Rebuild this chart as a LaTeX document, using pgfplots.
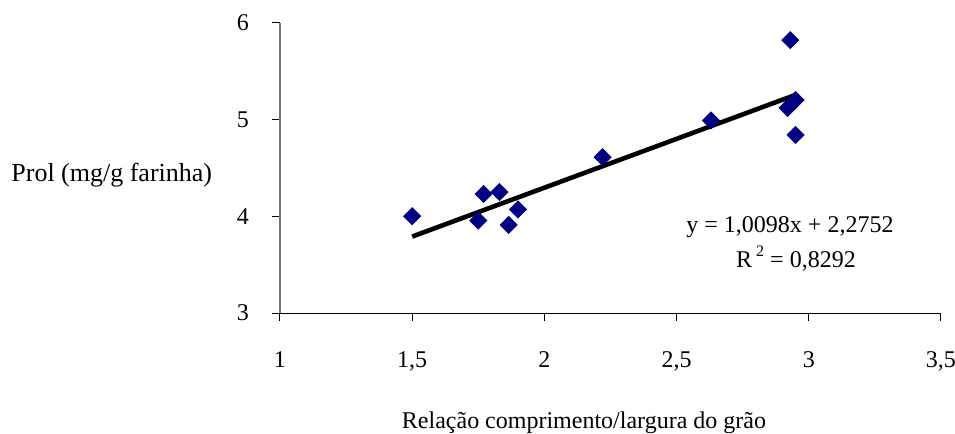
\documentclass[border=0pt]{standalone}
\usepackage{pgfplots}
\pgfplotsset{compat=1.18}
\usepackage{fontspec}
\setmainfont{Liberation Serif}
\definecolor{navy}{RGB}{0,0,128}
\begin{document}
\fontsize{12}{14.4}\selectfont
\begin{tikzpicture}
\path[use as bounding box] (-140pt,-60.5pt) rectangle (337.5pt,156.5pt);
\begin{axis}[
  at={(0,0)}, anchor=south west,
  scale only axis,
  width=330.5pt, height=145.15pt,
  xmin=1, xmax=3.5, ymin=3, ymax=6,
  axis lines*=left,
  x axis line style={black, line width=0.5pt},
  y axis line style={black!55, line width=0.6pt},
  xtick={1,1.5,2,2.5,3,3.5},
  xticklabels={1,{1,5},2,{2,5},3,{3,5}},
  ytick={3,4,5,6},
  tick align=outside,
  major tick length=4pt,
  tick style={black, line width=0.5pt},
  /pgf/number format/assume math mode=true,
  tick label style={font=\fontsize{12}{14.4}\selectfont},
  xticklabel style={yshift=-11pt},
  yticklabel style={xshift=-7.3pt},
  clip=false,
]
\addplot[only marks, mark=square*, mark size=3pt,
  mark options={rotate=45, fill=navy, draw=navy}]
  coordinates {
  (1.50,4.00) (1.75,3.955) (1.77,4.23) (1.83,4.25) (1.865,3.91) (1.90,4.07)
  (2.22,4.61) (2.63,4.99) (2.92,5.12) (2.95,5.20) (2.95,4.84) (2.93,5.82)
  };
\addplot[black, line width=2.3pt] coordinates {(1.5,3.7899) (2.954,5.2581)};
\end{axis}
\node[anchor=base west, inner sep=0pt, font=\fontsize{13}{15.6}\selectfont] at (-134.5pt,65.7pt) {Prol (mg/g farinha)};
\node[anchor=base, inner sep=0pt] at (152pt,-58pt) {Relação comprimento/largura do grão};
\node[anchor=base, inner sep=0pt] at (255pt,40pt) {y = 1,0098x + 2,2752};
\node[anchor=base, inner sep=0pt] at (258pt,22.5pt) {R\,\raisebox{0.5em}{\fontsize{8}{9}\selectfont 2} = 0,8292};
\end{tikzpicture}
\end{document}
